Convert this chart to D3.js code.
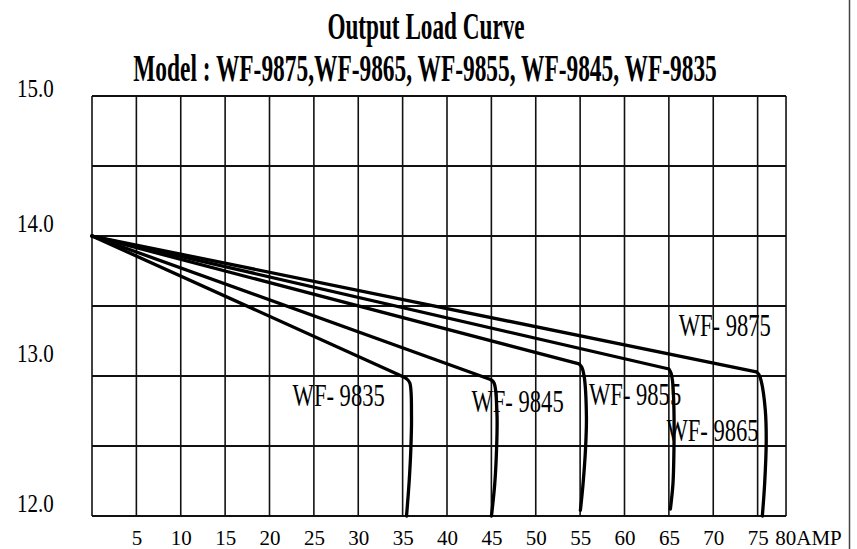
<!DOCTYPE html>
<html>
<head>
<meta charset="utf-8">
<script src="https://cdn.jsdelivr.net/npm/d3@7"></script>
<style>
  html, body { margin: 0; padding: 0; background: #fff; }
  svg { display: block; }
  text { font-family: "Liberation Serif", "Times New Roman", serif; fill: #000; }
</style>
</head>
<body>
<svg id="chart" width="857" height="549"></svg>
<script>
// ---- data ----
const titleText = "Output Load Curve";
const subtitleText = "Model : WF-9875,WF-9865, WF-9855, WF-9845, WF-9835";

const xTickValues = [5, 10, 15, 20, 25, 30, 35, 40, 45, 50, 55, 60, 65, 70, 75, 80];
const xTickLabels = ["5", "10", "15", "20", "25", "30", "35", "40", "45", "50", "55", "60", "65", "70", "75", "80AMP"];
const yTickValues = [15, 14, 13, 12];
const yTickLabels = ["15.0", "14.0", "13.0", "12.0"];

const gridXValues = [0, 5, 10, 15, 20, 25, 30, 35, 40, 45, 50, 55, 60, 65, 70, 75, 78.2];
const gridYValues = [12, 12.5, 13, 13.5, 14, 14.5, 15];

const seriesNames = ["WF- 9835", "WF- 9845", "WF- 9855", "WF- 9865", "WF- 9875"];

// load line: straight part (start -> knee), then the drop-off
const wf9835Amps  = [0, 35.06, 35.45, 35.81, 36.0, 35.92, 35.73, 35.44];
const wf9835Volts = [14.0, 12.995, 12.98, 12.95, 12.71, 12.47, 12.24, 12.0];
const wf9845Amps  = [0, 44.9, 45.2, 45.4, 45.64, 45.58, 45.38, 45.01];
const wf9845Volts = [14.0, 12.975, 12.96, 12.93, 12.71, 12.47, 12.23, 12.0];
const wf9855Amps  = [0, 54.88, 55.2, 55.45, 55.71, 55.6, 55.33, 55.03];
const wf9855Volts = [14.0, 13.086, 13.06, 13.0, 12.71, 12.47, 12.23, 12.04];
const wf9865Amps  = [0, 65.01, 65.25, 65.42, 65.57, 65.57, 65.46, 65.17];
const wf9865Volts = [14.0, 13.05, 13.02, 12.96, 12.76, 12.47, 12.23, 12.05];
const wf9875Amps  = [0, 74.85, 75.15, 75.42, 75.86, 75.97, 75.79, 75.53];
const wf9875Volts = [14.0, 13.03, 13.01, 12.96, 12.76, 12.54, 12.23, 12.0];

// label anchors (amps, volts) of each curve's annotation
const labelAmps  = [22.6, 42.76, 56.0, 64.72, 66.1];
const labelVolts = [12.786, 12.743, 12.793, 12.536, 13.286];

// ---- layout (not data) ----
const yLabelShift = [1, -4, -14, -4];   // baseline shift of each y label from its gridline

// ---- build ----
const seriesAmps = [wf9835Amps, wf9845Amps, wf9855Amps, wf9865Amps, wf9875Amps];
const seriesVolts = [wf9835Volts, wf9845Volts, wf9855Volts, wf9865Volts, wf9875Volts];
const series = seriesNames.map((name, i) => ({
  name,
  points: seriesAmps[i].map((a, j) => [a, seriesVolts[i][j]]),
  label: [labelAmps[i], labelVolts[i]]
}));

const svg = d3.select("#chart");
svg.append("rect").attr("width", 857).attr("height", 549).attr("fill", "#fff");

const x = d3.scaleLinear().domain([0, 80]).range([92, 802]);
const y = d3.scaleLinear().domain([12, 15]).range([516, 96]);

const stretch = 1.35;
const titleStretch = 1.65;

// title
svg.append("text")
  .attr("transform", `translate(426,39) scale(1,${titleStretch})`)
  .attr("text-anchor", "middle")
  .attr("font-weight", "bold")
  .attr("font-size", 23.2)
  .text(titleText);
svg.append("text")
  .attr("transform", `translate(425,81) scale(1,${titleStretch})`)
  .attr("text-anchor", "middle")
  .attr("font-weight", "bold")
  .attr("font-size", 23.4)
  .text(subtitleText);

// grid
const grid = svg.append("g");
grid.selectAll("line.h").data(gridYValues).join("line")
  .attr("class", "h")
  .attr("x1", x(0)).attr("x2", x(gridXValues[gridXValues.length - 1]))
  .attr("y1", d => y(d)).attr("y2", d => y(d))
  .attr("stroke", "#111").attr("stroke-width", 2);
grid.selectAll("line.v").data(gridXValues).join("line")
  .attr("class", "v")
  .attr("x1", d => x(d)).attr("x2", d => x(d))
  .attr("y1", y(15)).attr("y2", y(12))
  .attr("stroke", "#111").attr("stroke-width", 1.6);

// x tick labels via axis
const xAxis = d3.axisBottom(x)
  .tickValues(xTickValues)
  .tickSize(0)
  .tickFormat((d, i) => xTickLabels[i]);
const xg = svg.append("g").attr("transform", "translate(0,530)").call(xAxis);
xg.select(".domain").remove();
xg.selectAll("text")
  .attr("font-size", 21)
  .attr("fill", "#000")
  .attr("dy", "0.71em")
  .attr("y", 0)
  .attr("dx", (d, i) => i === xTickValues.length - 1 ? 6 : 0);

// y tick labels
svg.append("g").selectAll("text").data(yTickValues).join("text")
  .attr("transform", (d, i) => `translate(17,${y(d) + yLabelShift[i]}) scale(1,1.15)`)
  .attr("font-size", 21)
  .text((d, i) => yTickLabels[i]);

// curves
const straight = d3.line().x(d => x(d[0])).y(d => y(d[1]));
const rounded = d3.line().x(d => x(d[0])).y(d => y(d[1])).curve(d3.curveCatmullRom.alpha(0.5));
svg.append("g").selectAll("path").data(series).join("path")
  .attr("d", s => straight(s.points.slice(0, 2)) + rounded(s.points.slice(1)))
  .attr("fill", "none")
  .attr("stroke", "#000")
  .attr("stroke-width", 3.3)
  .attr("stroke-linejoin", "round")
  .attr("stroke-linecap", "round");

// curve labels
svg.append("g").selectAll("text").data(series).join("text")
  .attr("transform", s => `translate(${x(s.label[0])},${y(s.label[1])}) scale(1,${stretch})`)
  .attr("font-size", 22.6)
  .text(s => s.name);

// right page border
svg.append("line")
  .attr("x1", 849.5).attr("x2", 849.5).attr("y1", 0).attr("y2", 549)
  .attr("stroke", "#444").attr("stroke-width", 1.5);
</script>
</body>
</html>
